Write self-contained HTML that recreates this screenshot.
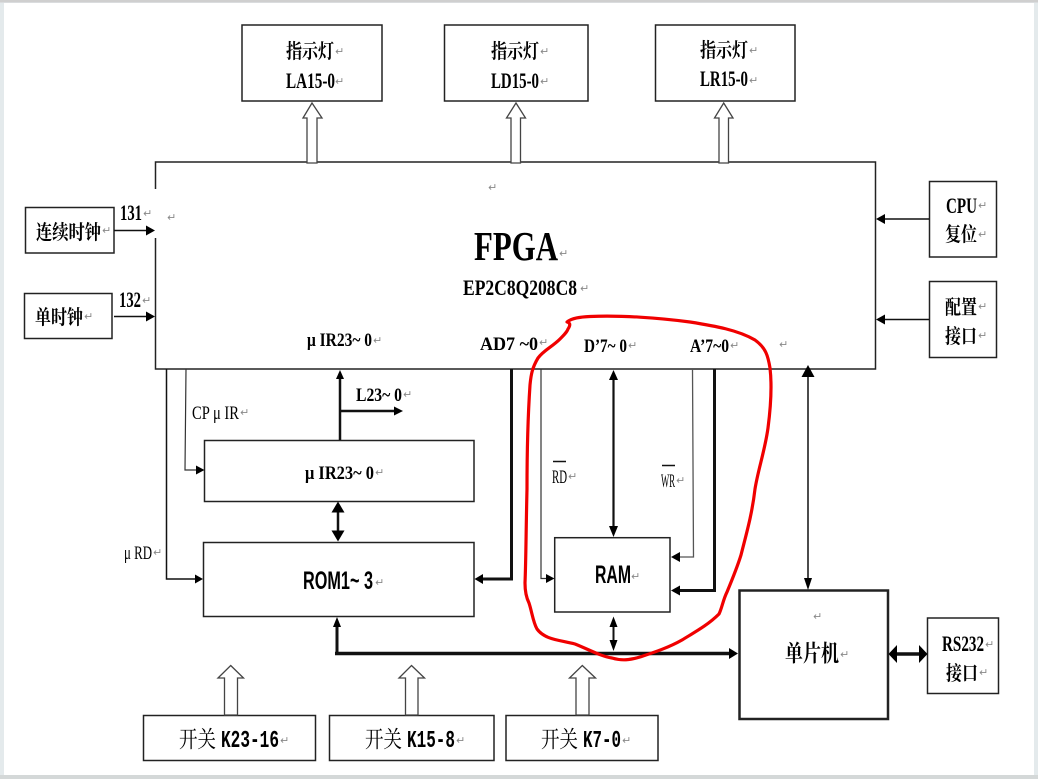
<!DOCTYPE html>
<html lang="zh">
<head>
<meta charset="utf-8">
<title>FPGA diagram</title>
<style>
html,body{margin:0;padding:0;background:#fff;width:1038px;height:779px;overflow:hidden}
svg{display:block;position:absolute;left:0;top:0;filter:blur(0.35px)}
.b{fill:#fff;stroke:#222;stroke-width:1.5}
.l{fill:none;stroke:#111;stroke-width:1.5}
.a{fill:#000;stroke:none}
.h{fill:#fff;stroke:#444;stroke-width:1.3}
text{fill:#000;font-family:"Liberation Serif","Noto Serif CJK SC",serif;font-weight:bold}
.c{font-size:20px}
.d{font-size:23px}
.e{font-size:22px}
.f{font-size:19px}
.n{font-weight:normal;font-size:19px}
.m{font-family:"Liberation Mono","Noto Serif CJK SC",monospace;font-size:24px}
.s{font-family:"Liberation Sans",sans-serif;font-size:25px}
.k{font-weight:normal;font-size:23px}
.r{fill:#888;font-family:"DejaVu Sans",sans-serif;font-weight:normal;font-size:11px}
</style>
</head>
<body>
<svg width="1038" height="779" viewBox="0 0 1038 779" xmlns="http://www.w3.org/2000/svg">
<!-- page frame -->
<rect x="0" y="0" width="1038" height="779" fill="#e4eaec"/>
<rect x="4" y="3" width="1030" height="772" fill="#fff"/>
<rect x="0" y="0" width="1038" height="2.5" fill="#cfcfcf"/>
<rect x="0" y="775" width="1038" height="4" fill="#d4d8d8"/>

<!-- boxes -->
<rect class="b" x="242" y="25" width="140" height="76"/>
<rect class="b" x="444.500" y="25" width="143.500" height="76"/>
<rect class="b" x="655.500" y="25" width="139.500" height="76"/>
<rect class="b" x="155.500" y="162" width="720" height="207"/>
<rect x="152" y="189" width="7" height="49" fill="#fff"/>
<rect class="b" x="25.500" y="207.500" width="88.500" height="45.500"/>
<rect class="b" x="24.500" y="293.500" width="87.500" height="45"/>
<rect class="b" x="929.500" y="181.500" width="67" height="75.500"/>
<rect class="b" x="929.500" y="281.500" width="67" height="76"/>
<rect class="b" x="204.500" y="440.500" width="269.500" height="61"/>
<rect class="b" x="203.500" y="542.500" width="270.500" height="74"/>
<rect class="b" x="554.700" y="537.700" width="115.300" height="74.300"/>
<rect class="b" x="739.500" y="590.500" width="148.500" height="128.500" style="stroke-width:2.500"/>
<rect class="b" x="927.500" y="618" width="71" height="75.500"/>
<rect class="b" x="143.500" y="715.500" width="172" height="45"/>
<rect class="b" x="329.500" y="715.500" width="164.500" height="45"/>
<rect class="b" x="506" y="715.500" width="152" height="45"/>

<!-- hollow arrows -->
<polygon class="h" points="312,103 322,118 317,118 317,163 307,163 307,118 303,118"/>
<polygon class="h" points="516,103 525.500,118 520.500,118 520.500,163 511,163 511,118 506.500,118"/>
<polygon class="h" points="723.700,103 733,118 728.500,118 728.500,163 719,163 719,118 714.500,118"/>
<polygon class="h" points="230.700,665.500 243.500,678 237.500,678 237.500,715 224.500,715 224.500,678 218,678"/>
<polygon class="h" points="411.500,665.500 424.500,678 418,678 418,715 405.500,715 405.500,678 399,678"/>
<polygon class="h" points="582.300,665.500 595.500,678 589,678 589,715 576,715 576,678 569.500,678"/>

<!-- connector lines -->
<path class="l" d="M114 230.500H148M114 316.500H148M929 219H884M929 319.500H884"/>
<polygon class="a" points="155,230.500 146,225.500 146,235.500"/>
<polygon class="a" points="155,316.500 146,311.500 146,321.500"/>
<polygon class="a" points="876,219 885,214 885,224"/>
<polygon class="a" points="876,319.500 885,314.500 885,324.500"/>

<path class="l" d="M340 440V378" style="stroke-width:2.500"/>
<polygon class="a" points="340,370 336,379 344,379"/>
<path class="l" d="M340 411H396" style="stroke-width:2.500"/>
<polygon class="a" points="403,411 394,406.500 394,415.500"/>

<path class="l" d="M186 369L185 470H197" style="stroke:#333;stroke-width:1.200"/>
<polygon class="a" points="204.500,470 196,465.500 196,474.500"/>
<path class="l" d="M166.500 369V579H196"/>
<polygon class="a" points="203,579 195,574.500 195,583.500"/>
<path class="l" d="M511.500 369V579H482" style="stroke-width:3"/>
<polygon class="a" points="474.500,579 483,574 483,584"/>

<path class="l" d="M613.500 378V528" style="stroke-width:2.200"/>
<polygon class="a" points="613.500,370 609,380 618,380"/>
<polygon class="a" points="613.500,537 609,526 618,526"/>
<path class="l" d="M541 369V578.500H548" style="stroke:#333;stroke-width:1.200"/>
<polygon class="a" points="554.500,578.500 546,574 546,583"/>
<path class="l" d="M692.500 369L693.500 557H678" style="stroke:#555;stroke-width:1.300"/>
<polygon class="a" points="671,557 680,552 680,562"/>
<path class="l" d="M714.500 369V590.500H679" style="stroke-width:3"/>
<polygon class="a" points="671,590.500 680,585.500 680,595.500"/>
<path class="l" d="M808 376V582"/>
<polygon class="a" points="808,365 801.500,377 814.500,377"/>
<polygon class="a" points="808,590 804,578 812,578"/>

<path class="l" d="M338 508V535" style="stroke-width:2.500"/>
<polygon class="a" points="338,501.500 331.500,512.500 344.500,512.500"/>
<polygon class="a" points="338,541.500 331.500,530.500 344.500,530.500"/>
<path class="l" d="M613.500 622V648" style="stroke-width:2"/>
<polygon class="a" points="613.500,616.500 609.500,627 617.500,627"/>
<polygon class="a" points="613.500,651 609.500,640 617.500,640"/>

<path class="l" d="M337 622V653.500" style="stroke-width:3"/>
<polygon class="a" points="337,617 333,627 341,627"/>
<path class="l" d="M335 653.500H731" style="stroke-width:3.500"/>
<polygon class="a" points="738,653.500 729,648 729,659"/>
<path class="l" d="M892 654H924" style="stroke-width:3.500"/>
<polygon class="a" points="888.500,654 897,645 897,663"/>
<polygon class="a" points="927.500,654 919,645 919,663"/>

<path class="l" d="M553 461.500H566M662 465.500H675"/>

<!-- text -->
<text class="c" x="286" y="58" textLength="48" lengthAdjust="spacingAndGlyphs">指示灯</text>
<text class="e" x="286" y="88" textLength="49" lengthAdjust="spacingAndGlyphs">LA15-0</text>
<text class="c" x="491" y="58" textLength="48" lengthAdjust="spacingAndGlyphs">指示灯</text>
<text class="e" x="491" y="88" textLength="48" lengthAdjust="spacingAndGlyphs">LD15-0</text>
<text class="c" x="700" y="57" textLength="48" lengthAdjust="spacingAndGlyphs">指示灯</text>
<text class="e" x="700" y="86" textLength="48" lengthAdjust="spacingAndGlyphs">LR15-0</text>

<text class="e" x="120" y="220" textLength="22" lengthAdjust="spacingAndGlyphs">131</text>
<text class="e" x="119" y="307" textLength="22" lengthAdjust="spacingAndGlyphs">132</text>
<text class="c" x="36" y="239" textLength="65" lengthAdjust="spacingAndGlyphs">连续时钟</text>
<text class="c" x="35" y="324" textLength="48" lengthAdjust="spacingAndGlyphs">单时钟</text>

<text x="474" y="260" font-size="41" textLength="84" lengthAdjust="spacingAndGlyphs">FPGA</text>
<text x="463" y="295" font-size="22" textLength="114" lengthAdjust="spacingAndGlyphs">EP2C8Q208C8</text>
<text class="f" x="307" y="346" textLength="65" lengthAdjust="spacingAndGlyphs">μ IR23~ 0</text>
<text class="f" x="480" y="350" textLength="58" lengthAdjust="spacingAndGlyphs">AD7 ~0</text>
<text class="f" x="584" y="352" textLength="43" lengthAdjust="spacingAndGlyphs">D’7~ 0</text>
<text class="f" x="690" y="352" textLength="39" lengthAdjust="spacingAndGlyphs">A’7~0</text>

<text class="e" x="946" y="213" textLength="31" lengthAdjust="spacingAndGlyphs">CPU</text>
<text class="c" x="945" y="241" textLength="32" lengthAdjust="spacingAndGlyphs">复位</text>
<text class="c" x="945" y="314" textLength="32" lengthAdjust="spacingAndGlyphs">配置</text>
<text class="c" x="945" y="343" textLength="32" lengthAdjust="spacingAndGlyphs">接口</text>

<text class="f" x="356" y="401" textLength="46" lengthAdjust="spacingAndGlyphs">L23~ 0</text>
<text class="n" x="192" y="419" textLength="47" lengthAdjust="spacingAndGlyphs">CP μ IR</text>
<text class="f" x="305" y="479" textLength="69" lengthAdjust="spacingAndGlyphs">μ IR23~ 0</text>
<text class="n" x="124" y="559" textLength="28" lengthAdjust="spacingAndGlyphs">μ RD</text>
<text class="s" x="303" y="589" textLength="70" lengthAdjust="spacingAndGlyphs">ROM1~ 3</text>
<text class="s" x="595" y="583" textLength="36" lengthAdjust="spacingAndGlyphs">RAM</text>
<text class="n" x="552" y="483" textLength="15" lengthAdjust="spacingAndGlyphs">RD</text>
<text class="n" x="661" y="487" textLength="14" lengthAdjust="spacingAndGlyphs">WR</text>
<text class="d" x="785" y="661" textLength="54" lengthAdjust="spacingAndGlyphs">单片机</text>
<text class="e" x="942" y="651" textLength="42" lengthAdjust="spacingAndGlyphs">RS232</text>
<text class="c" x="946" y="680" textLength="32" lengthAdjust="spacingAndGlyphs">接口</text>

<text class="k" x="179" y="747" textLength="37" lengthAdjust="spacingAndGlyphs">开关</text>
<text class="m" x="221" y="747" textLength="58" lengthAdjust="spacingAndGlyphs">K23-16</text>
<text class="k" x="365" y="747" textLength="37" lengthAdjust="spacingAndGlyphs">开关</text>
<text class="m" x="407" y="747" textLength="48" lengthAdjust="spacingAndGlyphs">K15-8</text>
<text class="k" x="541" y="747" textLength="37" lengthAdjust="spacingAndGlyphs">开关</text>
<text class="m" x="583" y="747" textLength="38" lengthAdjust="spacingAndGlyphs">K7-0</text>

<!-- return marks -->
<text class="r" x="335" y="55">↵</text><text class="r" x="335" y="85">↵</text>
<text class="r" x="540" y="55">↵</text><text class="r" x="540" y="85">↵</text>
<text class="r" x="749" y="54">↵</text><text class="r" x="749" y="84">↵</text>
<text class="r" x="143" y="217">↵</text><text class="r" x="142" y="304">↵</text>
<text class="r" x="167" y="221">↵</text><text class="r" x="488" y="191">↵</text>
<text class="r" x="102" y="234">↵</text><text class="r" x="84" y="320">↵</text>
<text class="r" x="559" y="257">↵</text><text class="r" x="580" y="292">↵</text>
<text class="r" x="373" y="344">↵</text><text class="r" x="539" y="346">↵</text>
<text class="r" x="628" y="349">↵</text><text class="r" x="730" y="349">↵</text>
<text class="r" x="779" y="348">↵</text>
<text class="r" x="978" y="209">↵</text><text class="r" x="978" y="238">↵</text>
<text class="r" x="978" y="310">↵</text><text class="r" x="978" y="339">↵</text>
<text class="r" x="403" y="398">↵</text><text class="r" x="240" y="416">↵</text>
<text class="r" x="375" y="476">↵</text><text class="r" x="153" y="556">↵</text>
<text class="r" x="375" y="586">↵</text><text class="r" x="631" y="580">↵</text>
<text class="r" x="568" y="480">↵</text><text class="r" x="676" y="484">↵</text>
<text class="r" x="840" y="658">↵</text><text class="r" x="813" y="620">↵</text>
<text class="r" x="985" y="648">↵</text><text class="r" x="979" y="676">↵</text>
<text class="r" x="280" y="744">↵</text><text class="r" x="456" y="744">↵</text>
<text class="r" x="622" y="744">↵</text>

<!-- red hand-drawn loop -->
<path fill="none" stroke="#f00000" stroke-width="3.200" stroke-linecap="round" stroke-linejoin="round" d="M568 329C570 326 571 323 567 322C572 318 580 317 590 316.500C620 315 660 318 690 322C715 326 738 330 755 340C766 348 768 356 770 368C772 385 771 405 768 428C765 450 758 470 755 489C752 515 746 535 741 555C737 568 732 580 727 592C723 600 722 608 719 614C708 625 695 632 682 640C668 648 652 653 640 657C630 660 622 661 612 658C600 656 590 650 575 644C560 640 545 640 537 629C533 622 532 612 529 603C526 597 525 590 525 583C526 560 526 530 527 489C527 450 528 415 530 385C531 375 532 368 538 358C544 350 552 347 560 339C564 335 567 332 568 329Z"/>
</svg>
</body>
</html>
